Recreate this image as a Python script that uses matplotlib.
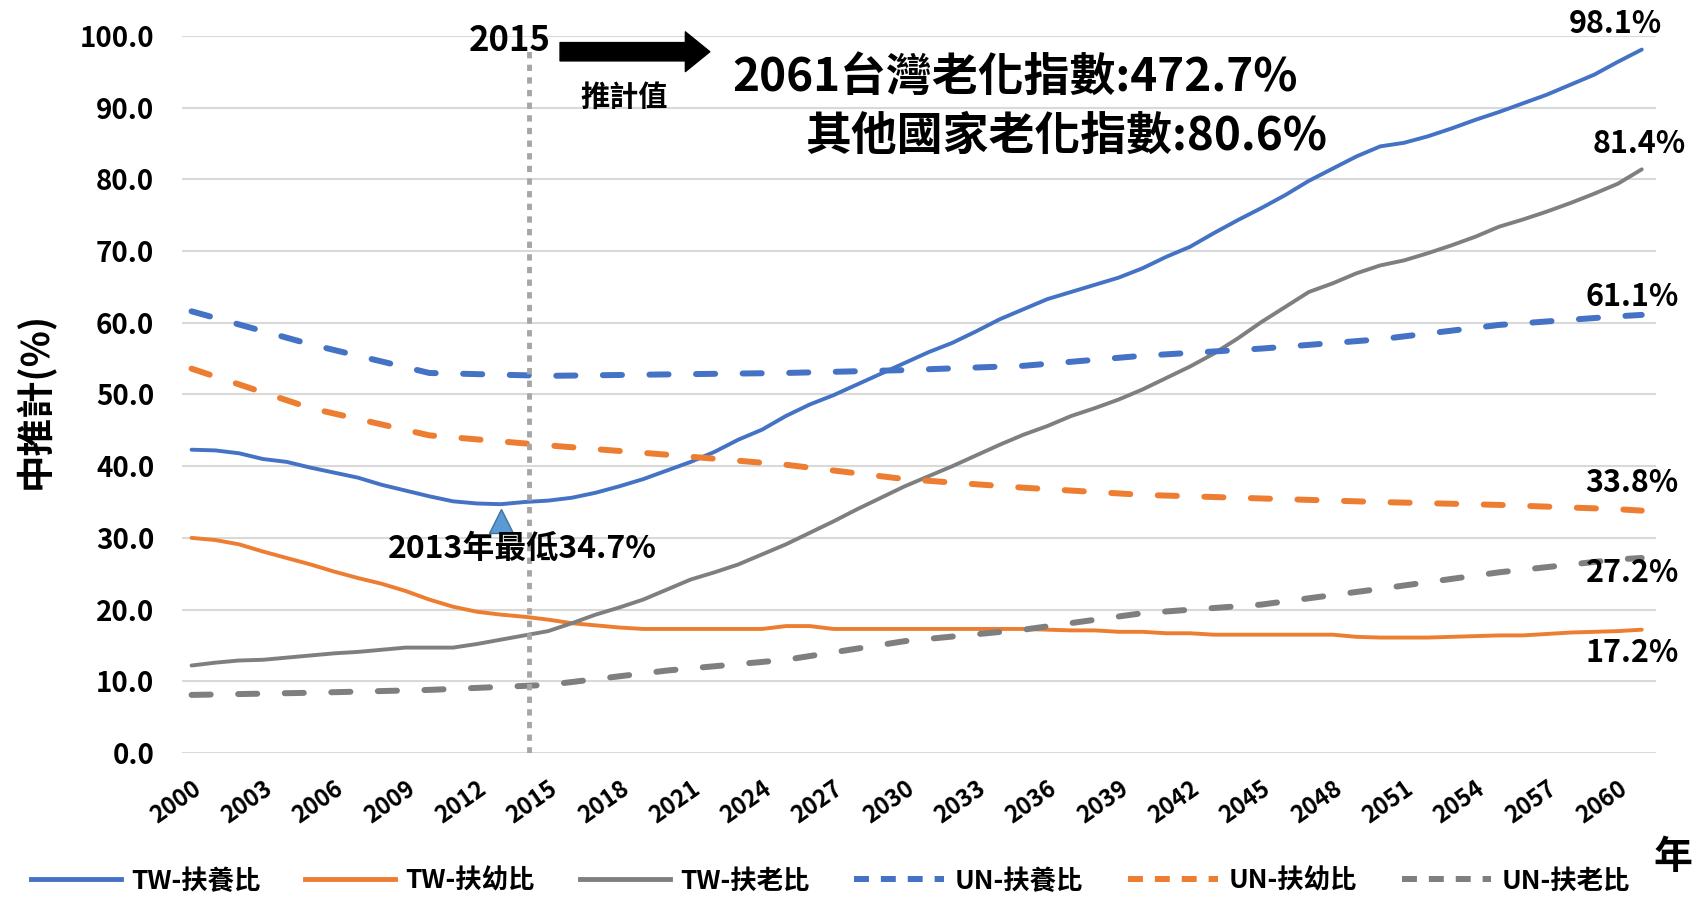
import numpy as np
import matplotlib
matplotlib.use("Agg")
import matplotlib.pyplot as plt
from matplotlib.lines import Line2D

plt.rcParams['font.family'] = ['Noto Sans CJK TC', 'DejaVu Sans']
plt.rcParams['font.weight'] = 'bold'

# ---- data ----
years = list(range(2000, 2062))

tw_dep = [42.3, 42.2, 41.8, 41.0, 40.6, 39.8, 39.1, 38.4, 37.4, 36.6,
          35.8, 35.1, 34.8, 34.7, 35.0, 35.2, 35.6, 36.3, 37.2, 38.2,
          39.4, 40.6, 42.0, 43.7, 45.1, 47.0, 48.6, 49.9, 51.4, 52.9,
          54.4, 55.9, 57.2, 58.8, 60.5, 61.9, 63.3, 64.3, 65.3, 66.3,
          67.6, 69.2, 70.6, 72.5, 74.3, 76.0, 77.8, 79.8, 81.5, 83.2,
          84.6, 85.1, 86.0, 87.1, 88.3, 89.4, 90.6, 91.8, 93.2, 94.6,
          96.4, 98.1]
tw_young = [30.0, 29.7, 29.1, 28.1, 27.2, 26.3, 25.3, 24.4, 23.6, 22.6,
            21.4, 20.4, 19.7, 19.3, 19.0, 18.6, 18.1, 17.8, 17.5, 17.3,
            17.3, 17.3, 17.3, 17.3, 17.3, 17.7, 17.7, 17.3, 17.3, 17.3,
            17.3, 17.3, 17.3, 17.3, 17.3, 17.3, 17.2, 17.1, 17.1, 16.9,
            16.9, 16.7, 16.7, 16.5, 16.5, 16.5, 16.5, 16.5, 16.5, 16.2,
            16.1, 16.1, 16.1, 16.2, 16.3, 16.4, 16.4, 16.6, 16.8, 16.9,
            17.0, 17.2]
tw_old = [12.2, 12.6, 12.9, 13.0, 13.3, 13.6, 13.9, 14.1, 14.4, 14.7,
          14.7, 14.7, 15.2, 15.8, 16.4, 17.0, 18.1, 19.3, 20.3, 21.4,
          22.8, 24.2, 25.2, 26.3, 27.7, 29.1, 30.7, 32.3, 34.0, 35.6,
          37.2, 38.6, 40.0, 41.5, 43.0, 44.4, 45.6, 47.0, 48.1, 49.3,
          50.7, 52.3, 53.9, 55.7, 57.8, 60.1, 62.2, 64.3, 65.5, 66.9,
          68.0, 68.7, 69.7, 70.8, 72.0, 73.4, 74.4, 75.5, 76.7, 78.0,
          79.4, 81.4]

un_years = [2000, 2005, 2010, 2015, 2020, 2025, 2030, 2035, 2040, 2045,
            2050, 2055, 2060, 2061]
un_dep = [61.6, 57.0, 53.0, 52.6, 52.8, 53.0, 53.4, 54.0, 55.4, 56.4,
          57.7, 59.7, 60.9, 61.1]
un_young = [53.6, 48.1, 44.3, 42.9, 41.6, 40.2, 38.2, 37.0, 36.0, 35.5,
            35.0, 34.6, 34.0, 33.8]
un_old = [8.1, 8.4, 8.8, 9.5, 11.5, 13.0, 15.6, 17.2, 19.5, 20.7,
          22.9, 25.2, 27.0, 27.2]

names = ['TW-扶養比', 'TW-扶幼比', 'TW-扶老比', 'UN-扶養比', 'UN-扶幼比', 'UN-扶老比']
end_labels = ['98.1%', '81.4%', '61.1%', '33.8%', '27.2%', '17.2%']

BLUE, ORANGE, GRAY = '#4472C4', '#ED7D31', '#7F7F7F'

fig = plt.figure(figsize=(16.95, 8.99), dpi=100)
ax = fig.add_axes([0.1074, 0.1624, 0.8696, 0.7976])

solid = dict(lw=2.8, solid_capstyle='round')
dash = dict(lw=4.3, dashes=(3.2, 4.6), dash_capstyle='round')

ax.plot(years, tw_dep, color=BLUE, **solid)
ax.plot(years, tw_young, color=ORANGE, **solid)
ax.plot(years, tw_old, color=GRAY, **solid)
ax.plot(un_years, un_dep, color=BLUE, **dash)
ax.plot(un_years, un_young, color=ORANGE, **dash)
ax.plot(un_years, un_old, color=GRAY, **dash)

ax.set_xlim(1999.6, 2061.6)
ax.set_ylim(0, 100)
ax.set_yticks(np.arange(0, 101, 10))
ax.set_yticklabels([f'{v:.1f}' for v in np.arange(0, 101, 10)], fontsize=20)
xt = list(range(2000, 2061, 3))
ax.set_xticks(xt)
ax.set_xticklabels([str(v) for v in xt], rotation=35, ha='right', va='top',
                   rotation_mode='anchor', fontsize=17)
ax.tick_params(axis='y', length=0, pad=20)
ax.tick_params(axis='x', length=0, pad=17)
for s in ax.spines.values():
    s.set_visible(False)
ax.yaxis.grid(True, color='#D9D9D9', lw=1.5)
ax.set_axisbelow(True)

# 2015 divider and projection arrow
ax.plot([2014.2, 2014.2], [0, 98.3], color='#A6A6A6', lw=3.5, dashes=(1.3, 1.3))
ax.text(2013.4, 99.3, '2015', fontsize=25, ha='center', va='center')
ax.annotate('', xy=(2021.8, 97.8), xytext=(2015.5, 97.8),
            arrowprops=dict(arrowstyle='simple,head_length=0.8,head_width=1.3,tail_width=0.6',
                            color='black', shrinkA=0, shrinkB=0, mutation_scale=22))
ax.text(2018.2, 91.5, '推計值', fontsize=21, ha='center', va='center')

ax.text(2034.65, 94.0, '2061台灣老化指數:472.7%', fontsize=33, ha='center', va='center')
ax.text(2036.8, 85.9, '其他國家老化指數:80.6%', fontsize=33, ha='center', va='center')

# minimum marker
ax.plot([2013], [32.4], marker='^', markersize=17, color='#5B9BD5',
        markeredgecolor='#41719C', markeredgewidth=1)
ax.text(2013.9, 28.5, '2013年最低34.7%', fontsize=23, ha='center', va='center')

# end labels
end_pos = [(2059.9, 101.7), (2060.9, 85.0), (2060.6, 63.6),
           (2060.6, 37.7), (2060.6, 25.1), (2060.6, 14.0)]
for lab, (x, y) in zip(end_labels, end_pos):
    ax.text(x, y, lab, fontsize=22, fontweight='bold', ha='center', va='center',
            clip_on=False)

fig.text(35 / 1695, 1 - 400 / 899, '中推計(%)', rotation=90, fontsize=27,
         ha='center', va='center')
fig.text(1673 / 1695, 1 - 858 / 899, '年', fontsize=28, ha='center', va='center')

handles = [Line2D([], [], color=BLUE, lw=3.5),
           Line2D([], [], color=ORANGE, lw=3.5),
           Line2D([], [], color=GRAY, lw=3.5),
           Line2D([], [], color=BLUE, lw=4.3, dashes=(2.5, 2.0)),
           Line2D([], [], color=ORANGE, lw=4.3, dashes=(2.5, 2.0)),
           Line2D([], [], color=GRAY, lw=4.3, dashes=(2.5, 2.0))]
fig.legend(handles, names, ncol=6, loc='center', bbox_to_anchor=(0.49, 0.02),
           frameon=False, fontsize=19, handlelength=3.4, columnspacing=1.7,
           handletextpad=0.4)

fig.savefig('out.png', dpi=100)
